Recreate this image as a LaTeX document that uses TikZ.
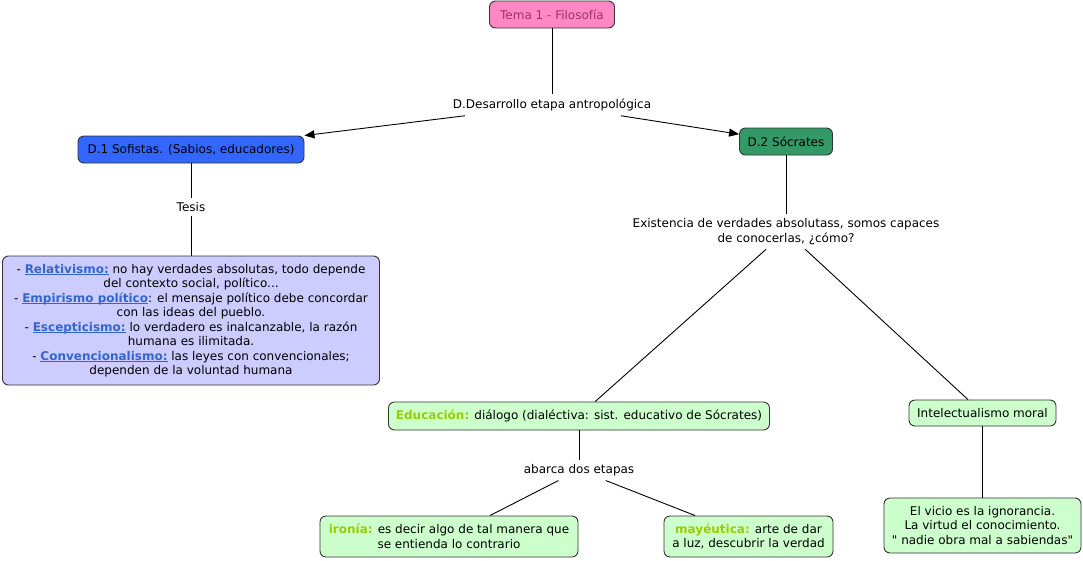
\documentclass[tikz,border=0pt]{standalone}
\usepackage{fontspec}
\setmainfont{DejaVu Sans}[Ligatures=TeXOff]
\usetikzlibrary{arrows.meta}
\definecolor{temafill}{HTML}{FF88C4}
\definecolor{tematext}{HTML}{993366}
\definecolor{sofblue}{HTML}{3366FF}
\definecolor{socgreen}{HTML}{339966}
\definecolor{lavender}{HTML}{CCCCFF}
\definecolor{lightgreen}{HTML}{CCFFCC}
\definecolor{linkblue}{HTML}{3366CC}
\definecolor{keygreen}{HTML}{99CC00}
\definecolor{bordergray}{HTML}{333333}
\newcommand{\myul}[1]{\setbox0\hbox{#1}\rlap{\rule[-2pt]{\wd0}{0.9pt}}\box0}
\newcommand{\kw}[1]{\textcolor{linkblue}{\myul{\textbf{#1}}}}
\newcommand{\gk}[1]{\textcolor{keygreen}{\textbf{#1}}}
\begin{document}
\begin{tikzpicture}[x=1pt,y=-1pt,
  cbox/.style={draw=bordergray, rounded corners=6pt, line width=0.9pt, align=center, inner sep=0pt,
    font=\fontsize{12}{14.5}\selectfont},
  lbl/.style={inner xsep=2pt, inner ysep=4.5pt, align=center, font=\fontsize{12}{14.5}\selectfont},
  conn/.style={line width=0.9pt, black},
  arr/.style={conn, -{Triangle[length=10pt,width=8pt]}}]
\useasboundingbox (0,0) rectangle (1083,560);
\node[cbox, fill=temafill, text=tematext, minimum width=125pt, minimum height=27pt] (tema) at (552,14.5) {Tema 1 - Filosofía};
\node[lbl] (desa) at (552,105) {D.Desarrollo etapa antropológica};
\node[cbox, fill=sofblue, minimum width=226pt, minimum height=27pt] (sof) at (191,149.5) {D.1 Sofistas. (Sabios, educadores)};
\node[cbox, fill=socgreen, minimum width=93pt, minimum height=27pt] (soc) at (786,141.5) {D.2 Sócrates};
\node[lbl] (tesis) at (191,207) {Tesis};
\node[cbox, fill=lavender, minimum width=377pt, minimum height=129pt] (tes) at (191,320.5)
 {- \kw{Relativismo:} no hay verdades absolutas, todo depende\\
  del contexto social, político...\\
  - \kw{Empirismo político}: el mensaje político debe concordar\\
  con las ideas del pueblo.\\
  - \kw{Escepticismo:} lo verdadero es inalcanzable, la razón\\
  humana es ilimitada.\\
  - \kw{Convencionalismo:} las leyes con convencionales;\\
  dependen de la voluntad humana};
\node[lbl] (exist) at (786,231.5) {Existencia de verdades absolutass, somos capaces\\de conocerlas, ¿cómo?};
\node[cbox, fill=lightgreen, minimum width=381pt, minimum height=28pt] (edu) at (579,416)
 {\gk{Educación:} diálogo (dialéctiva: sist. educativo de Sócrates)};
\node[cbox, fill=lightgreen, minimum width=147pt, minimum height=26pt] (intel) at (982.5,413) {Intelectualismo moral};
\node[lbl] (abarca) at (579,470) {abarca dos etapas};
\node[cbox, fill=lightgreen, minimum width=258pt, minimum height=41pt] (iron) at (449,536.5)
 {\gk{ironía:} es decir algo de tal manera que\\se entienda lo contrario};
\node[cbox, fill=lightgreen, minimum width=169pt, minimum height=41pt] (may) at (748.5,536.5)
 {\gk{mayéutica:} arte de dar\\a luz, descubrir la verdad};
\node[cbox, fill=lightgreen, minimum width=197pt, minimum height=55pt] (vicio) at (982.5,525.5)
 {El vicio es la ignorancia.\\La virtud el conocimiento.\\" nadie obra mal a sabiendas"};
\draw[conn] (tema) -- (desa);
\draw[arr] (desa) -- (sof);
\draw[arr] (desa) -- (soc);
\draw[conn] (sof) -- (tesis);
\draw[conn] (tesis) -- (tes);
\draw[conn] (soc) -- (exist);
\draw[conn] (exist) -- (edu);
\draw[conn] (exist) -- (intel);
\draw[conn] (edu) -- (abarca);
\draw[conn] (abarca) -- (iron);
\draw[conn] (abarca) -- (may);
\draw[conn] (intel) -- (vicio);
\end{tikzpicture}
\end{document}
